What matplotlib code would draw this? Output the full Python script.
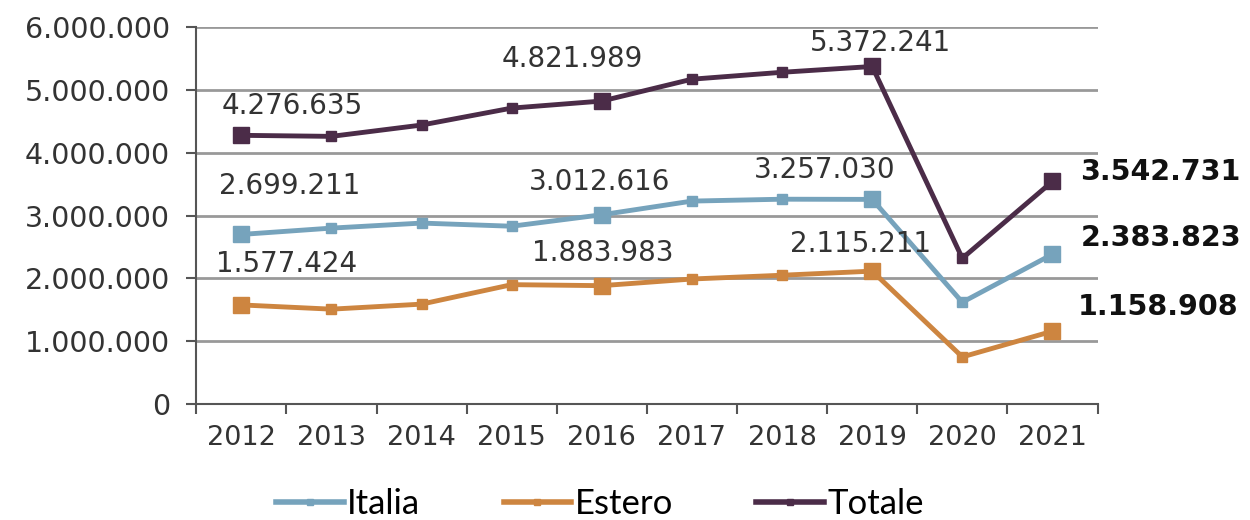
import matplotlib
matplotlib.use('Agg')
import matplotlib.pyplot as plt
import matplotlib.ticker as mtick
import numpy as np

anni = ['2012', '2013', '2014', '2015', '2016', '2017', '2018', '2019', '2020', '2021']
italia = [2699211, 2800000, 2880000, 2830000, 3012616, 3230000, 3260000, 3257030, 1620000, 2383823]
estero = [1577424, 1510000, 1590000, 1900000, 1883983, 1990000, 2050000, 2115211, 750000, 1158908]
totale = [4276635, 4260000, 4440000, 4710000, 4821989, 5170000, 5280000, 5372241, 2320000, 3542731]

big_idx = [0, 4, 7, 9]

col_italia = '#76a3bc'
col_estero = '#cd8540'
col_totale = '#4b2c48'

plt.rcParams['font.family'] = ['DejaVu Sans']


def fmt(v):
    return f'{int(round(v)):,}'.replace(',', '.')


fig = plt.figure(figsize=(12.5, 5.2), dpi=100)
ax = fig.add_axes([0.157, 0.223, 0.721, 0.725])

x = np.arange(len(anni))
series = [('Italia', italia, col_italia), ('Estero', estero, col_estero), ('Totale', totale, col_totale)]
for name, vals, col in series:
    ax.plot(x, vals, '-', color=col, lw=3.5, marker='s', ms=6.5, label=name, zorder=3)
    ax.plot(x[big_idx], np.array(vals)[big_idx], 's', color=col, ms=12, zorder=4)

# etichette sopra i punti
labels_top = [
    (totale, 0, -20, 29), (totale, 4, -100, 42), (totale, 7, -62, 23),
    (italia, 0, -22, 48), (italia, 4, -73, 33), (italia, 7, -118, 29),
    (estero, 0, -25, 41), (estero, 4, -70, 33), (estero, 7, -82, 27),
]
for vals, i, dx, dy in labels_top:
    ax.annotate(fmt(vals[i]), (x[i], vals[i]), xytext=(dx, dy), textcoords='offset pixels',
                ha='left', va='center', fontsize=20, color='#333333', zorder=5)

labels_right = [(totale, 28, 9), (italia, 28, 16), (estero, 25, 24)]
for vals, dx, dy in labels_right:
    ax.annotate(fmt(vals[9]), (x[9], vals[9]), xytext=(dx, dy), textcoords='offset pixels',
                ha='left', va='center', fontsize=20.5, fontweight='bold', color='#111111',
                annotation_clip=False, zorder=5)

ax.set_ylim(0, 6000000)
ax.set_xlim(-0.5, 9.5)
ax.yaxis.set_major_locator(mtick.MultipleLocator(1000000))
ax.yaxis.set_major_formatter(mtick.FuncFormatter(lambda v, p: fmt(v)))
ax.yaxis.grid(True, color='#999999', lw=2)
ax.set_axisbelow(True)

ax.set_xticks(np.arange(-0.5, 10, 1))
ax.set_xticklabels([])
ax.set_xticks(x, minor=True)
ax.set_xticklabels(anni, minor=True)
ax.tick_params(axis='x', which='minor', length=0, pad=15, labelsize=19.5, labelcolor='#333333')
ax.tick_params(axis='x', which='major', length=7, width=1.5, color='#555555')
ax.tick_params(axis='y', length=7, width=1.5, color='#555555', labelsize=20.5, labelcolor='#333333', pad=12)

for s in ['top', 'right']:
    ax.spines[s].set_visible(False)
for s in ['left', 'bottom']:
    ax.spines[s].set_color('#555555')
    ax.spines[s].set_linewidth(1.5)

leg = fig.legend(loc='lower center', bbox_to_anchor=(0.48, -0.06), ncol=3, frameon=False,
                 prop={'family': 'Lato', 'size': 25}, handlelength=1.95, handletextpad=0.1,
                 columnspacing=2.4)
for h in leg.legend_handles:
    h.set_markersize(5)
    h.set_linewidth(4)

fig.savefig('out.png', dpi=100)
